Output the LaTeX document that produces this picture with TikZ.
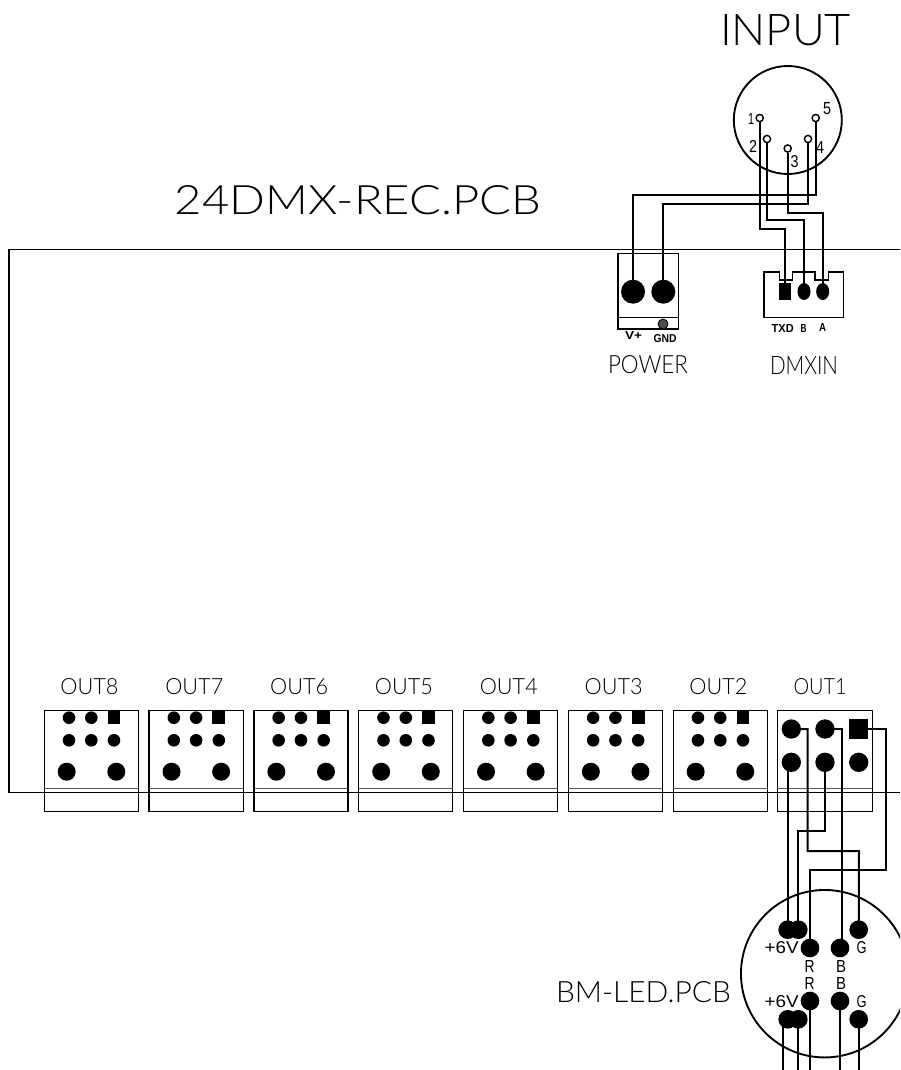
\documentclass[tikz,border=0pt]{standalone}
\usepackage{fontspec}
\usepackage{graphicx}
\usetikzlibrary{shapes.geometric}
\setmainfont{Lato Light}
\newfontfamily\boldlab{Liberation Sans Bold}
\newfontfamily\midlab{Liberation Sans}
\newdimen\pxu \pxu=0.75pt
\newcommand{\txt}[3]{\resizebox{#1\pxu}{#2\pxu}{#3}}
\tikzset{
  wire/.style={draw=black,line width=1.5pt,line join=miter},
  thinline/.style={draw=black,line width=1.05pt},
  greyline/.style={draw=black!65,line width=0.9pt},
  pad/.style={circle,fill=black,inner sep=0pt,minimum size=#1},
  sqpad/.style={rectangle,fill=black,inner sep=0pt,minimum size=#1},
  pin/.style={circle,draw=black,fill=white,line width=1.05pt,inner sep=0pt,minimum size=5.4pt},
  lab/.style={inner sep=0pt,outer sep=0pt,text=black},
  outbox/.style={rectangle,draw=black,line width=0.95pt,inner sep=0pt,minimum width=70.5pt,minimum height=75.75pt},
}
\begin{document}
\begin{tikzpicture}[x=0.75pt,y=-0.75pt]
\useasboundingbox (0,0) rectangle (900,1070);
\clip (0,0) rectangle (900,1070);
\fill[white] (0,0) rectangle (900,1070);

% board
\draw[thinline] (900,249.7) -- (9,249.7) -- (9,792.3) -- (900,792.3);

% titles
\node[lab] (tinput) at (785.5,30) {\txt{131}{31}{INPUT}};
\node[lab] (tboard) at (358,200) {\txt{366}{29}{24DMX-REC.PCB}};
\node[lab] (tpower) at (648,365) {\txt{80}{18}{POWER}};
\node[lab] (tdmx) at (804,365) {\txt{68}{18}{DMXIN}};
\node[lab] (tbm) at (643.5,992) {\txt{175}{21}{BM-LED.PCB}};

% input connector
\node[circle,draw=black,line width=1.4pt,inner sep=0pt,minimum size=81pt] (incirc) at (787.8,120) {};
\node[pin] (p1) at (759.7,118) {};
\node[pin] (p5) at (815.7,118) {};
\node[pin] (p2) at (767,139) {};
\node[pin] (p4) at (808,139) {};
\node[pin] (p3) at (787.7,148.5) {};
\node[lab] at (751,119) {\txt{6}{11}{\midlab 1}};
\node[lab] at (827,109) {\txt{8}{12}{\midlab 5}};
\node[lab] at (753,146) {\txt{8}{12}{\midlab 2}};
\node[lab] at (820,147) {\txt{8}{12}{\midlab 4}};
\node[lab] at (794.5,162) {\txt{8}{12}{\midlab 3}};

% power connector
\node[rectangle,draw=black,line width=0.95pt,inner sep=0pt,minimum width=45.2pt,minimum height=56.5pt] (pwbox) at (648.2,291.3) {};
\draw[thinline] (pwbox.west |- 0,317.7) -- (pwbox.east |- 0,317.7);
\node[pad=18pt] (pw1) at (633,291.7) {};
\node[pad=18pt] (pw2) at (663.3,291.7) {};
\node[circle,fill=black!70,draw=black,line width=0.6pt,inner sep=0pt,minimum size=7.5pt] (gnd) at (663,324) {};
\node[lab] at (633.5,335) {\txt{17}{8}{\boldlab V+}};
\node[lab] at (665,338.5) {\txt{23}{8}{\boldlab GND}};

% DMX in connector
\draw[thinline] (764,272) -- (779.3,272) -- (779.3,280) -- (792.3,280) -- (792.3,272) -- (815,272) -- (815,280) -- (828.3,280) -- (828.3,272) -- (843.3,272) -- (843.3,317.3) -- (764,317.3) -- cycle;
\node[rectangle,fill=black,inner sep=0pt,minimum width=9.5pt,minimum height=12.7pt] (dtx) at (785,291.5) {};
\node[ellipse,fill=black,inner sep=0pt,minimum width=9.8pt,minimum height=12.7pt] (db) at (804,291.5) {};
\node[ellipse,fill=black,inner sep=0pt,minimum width=9.8pt,minimum height=12.7pt] (da) at (822.7,291.5) {};
\node[lab] at (782.7,328) {\txt{22}{8}{\boldlab TXD}};
\node[lab] at (803.7,328.5) {\txt{6}{8}{\boldlab B}};
\node[lab] at (822.7,327.5) {\txt{7}{8}{\boldlab A}};

% input wiring
\coordinate (c5a) at (815.7,195);
\coordinate (c5b) at (633,195);
\coordinate (c4a) at (808,204);
\coordinate (c4b) at (663.3,204);
\coordinate (c1a) at (759.7,229);
\coordinate (c1b) at (785,229);
\coordinate (c2a) at (767,220);
\coordinate (c2b) at (804,220);
\coordinate (c3a) at (787.7,213);
\coordinate (c3b) at (822.7,213);
\draw[wire] (p5.south) -- (c5a) -- (c5b) -- (pw1.center);
\draw[wire] (p4.south) -- (c4a) -- (c4b) -- (pw2.center);
\draw[wire] (p1.south) -- (c1a) -- (c1b) -- (dtx.center);
\draw[wire] (p2.south) -- (c2a) -- (c2b) -- (db.center);
\draw[wire] (p3.south) -- (c3a) -- (c3b) -- (da.center);

% OUT8 .. OUT2
\foreach \i in {2,...,8}{
  \pgfmathsetmacro{\L}{44.3+(8-\i)*104.83}
  \node[outbox] (box\i) at (\L+47,760.8) {};
  \draw[greyline] (\L,788.7) -- (\L+94,788.7);
  \node[lab] (lab\i) at (\L+45.2,687) {\txt{58}{16}{OUT\i}};
  \node[pad=9.45pt] (s\i a) at (\L+24.7,717.7) {};
  \node[pad=9.45pt] (s\i b) at (\L+47,717.7) {};
  \node[sqpad=9.6pt] (s\i c) at (\L+69.7,717.7) {};
  \node[pad=9.45pt] (s\i d) at (\L+24.7,740.3) {};
  \node[pad=9.45pt] (s\i e) at (\L+47,740.3) {};
  \node[pad=9.45pt] (s\i f) at (\L+69.7,740.3) {};
  \node[pad=13.5pt] (s\i g) at (\L+22.4,771.7) {};
  \node[pad=13.5pt] (s\i h) at (\L+72,771.7) {};
}

% OUT1
\node[outbox,minimum width=71.25pt] (box1) at (824.8,760.8) {};
\draw[greyline] (777.3,788.7) -- (872.3,788.7);
\node[lab] (lab1) at (820,687) {\txt{53}{16}{OUT1}};
\node[pad=14.5pt] (a1) at (791.3,729) {};
\node[pad=14.5pt] (a2) at (825,729) {};
\node[sqpad=14.5pt] (a3) at (858.7,729) {};
\node[pad=14.5pt] (a4) at (791.3,762.3) {};
\node[pad=14.5pt] (a5) at (825,762.3) {};
\node[pad=14.5pt] (a6) at (858.7,762.3) {};

% BM-LED connector
\node[circle,draw=black,line width=1.4pt,inner sep=0pt,minimum size=125.6pt] (bmcirc) at (824.7,973.7) {};
\node[pad=14pt] (t1) at (787.7,929.7) {};
\node[pad=14pt] (t2) at (798.3,929.7) {};
\node[pad=14pt] (t3) at (858.7,929.7) {};
\node[pad=14pt] (t4) at (810,948) {};
\node[pad=14pt] (t5) at (840,948) {};
\node[pad=14pt] (u4) at (810,1001) {};
\node[pad=14pt] (u5) at (840,1001) {};
\node[pad=14pt] (u1) at (787.7,1019.3) {};
\node[pad=14pt] (u2) at (798.3,1019.3) {};
\node[pad=14pt] (u3) at (858.7,1019.3) {};
\node[lab] at (781.7,948) {\txt{34}{12}{\midlab +6V}};
\node[lab] at (861.7,948) {\txt{10}{12}{\midlab G}};
\node[lab] at (809.5,966.7) {\txt{10}{12}{\midlab R}};
\node[lab] at (841,966.7) {\txt{10}{12}{\midlab B}};
\node[lab] at (809.5,983) {\txt{10}{12}{\midlab R}};
\node[lab] at (841,983) {\txt{10}{12}{\midlab B}};
\node[lab] at (781.7,1001.5) {\txt{34}{12}{\midlab +6V}};
\node[lab] at (861.7,1002) {\txt{10}{12}{\midlab G}};

% OUT1 wiring
\coordinate (w1) at (788.3,762.3);
\coordinate (w1b) at (788.3,929.7);
\coordinate (w2a) at (825,831);
\coordinate (w2b) at (798.3,831);
\coordinate (w3a) at (807.7,729);
\coordinate (w3b) at (807.7,851);
\coordinate (w3c) at (859,851);
\coordinate (w4a) at (886,729);
\coordinate (w4b) at (886,870);
\coordinate (w4c) at (810,870);
\coordinate (w5a) at (842,729);
\coordinate (w5b) at (842,948);
\draw[wire] (w1) -- (w1b);
\draw[wire] (a5.center) -- (w2a) -- (w2b) -- (t2.center);
\draw[wire] (a1.center) -- (w3a) -- (w3b) -- (w3c) -- (t3.center);
\draw[wire] (a3.center) -- (w4a) -- (w4b) -- (w4c) -- (t4.center);
\draw[wire] (a2.center) -- (w5a) -- (w5b);

% free ends at the bottom
\coordinate (e1) at (783,1070);
\coordinate (e2) at (798.3,1070);
\coordinate (e4) at (810,1070);
\coordinate (e5) at (840,1070);
\coordinate (e3) at (858.7,1070);
\draw[wire] (783,1019.3) -- (e1);
\draw[wire] (u2.center) -- (e2);
\draw[wire] (u4.center) -- (e4);
\draw[wire] (u5.center) -- (e5);
\draw[wire] (u3.center) -- (e3);
\end{tikzpicture}
\end{document}
